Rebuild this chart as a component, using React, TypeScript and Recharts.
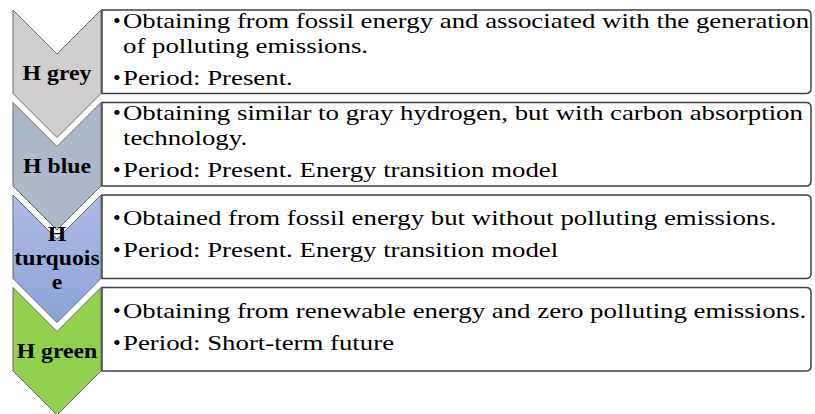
import React from 'react';
import { BarChart, Bar, XAxis, YAxis } from 'recharts';

const categories = ['H grey', 'H blue', 'H turquoise', 'H green'];
const labelLines = [['H grey'], ['H blue'], ['H', 'turquois', 'e'], ['H green']];
const values = [1, 1, 1, 1];
const chevronColors = ['#D0CECE', '#ADB9CA', '#8FAADC', '#92D050'];
const bulletItems: string[][][] = [
  [
    ['Obtaining from fossil energy and associated with the generation', 'of polluting emissions.'],
    ['Period: Present.'],
  ],
  [
    ['Obtaining similar to gray hydrogen, but with carbon absorption', 'technology.'],
    ['Period: Present. Energy transition model'],
  ],
  [
    ['Obtained from fossil energy but without polluting emissions.'],
    ['Period: Present. Energy transition model'],
  ],
  [
    ['Obtaining from renewable energy and zero polluting emissions.'],
    ['Period: Short-term future'],
  ],
];

const data = categories.map((name, i) => ({
  name,
  value: values[i],
  color: chevronColors[i],
  label: labelLines[i],
  items: bulletItems[i],
  idx: i,
}));

const SERIF = '"Liberation Serif", "Times New Roman", serif';
const SX = 1.22;
const LSX = 1.08;

const RowShape = (props: any) => {
  const { x, y, width, height, payload } = props;
  const boxH = height - 9.5;
  const chevW = 88;
  const depth = 44;
  const cx = x + chevW / 2;
  const x1 = x + chevW;
  const pts = [
    [x, y],
    [cx, y + depth],
    [x1, y],
    [x1, y + boxH],
    [cx, y + boxH + depth],
    [x, y + boxH],
  ]
    .map((p) => p.join(','))
    .join(' ');
  const L = x + 89;
  const R = x + width - 1;
  const T = y;
  const B = y + boxH;
  const r = 5;
  const boxPath = `M${L},${T} H${R - r} Q${R},${T} ${R},${T + r} V${B - r} Q${R},${B} ${R - r},${B} H${L} Z`;
  const gradId = `grad-${payload.idx}`;
  const fill = payload.idx === 2 ? `url(#${gradId})` : payload.color;

  const lbl: string[] = payload.label;
  const lblGap = 24;
  const lblStart = y + 70 - ((lbl.length - 1) * lblGap) / 2;

  const items: string[][] = payload.items;
  const lineH = 25;
  const itemGap = 7;
  let nLines = 0;
  items.forEach((it) => (nLines += it.length));
  const span = (nLines - 1) * lineH + (items.length - 1) * itemGap;
  let by = y + 46 - span / 2;
  const textEls: any[] = [];
  items.forEach((it, ii) => {
    it.forEach((line, li) => {
      if (li === 0) {
        textEls.push(
          <text key={`b${ii}`} x={113} y={by} fontFamily={SERIF} fontSize={22} fill="#000">
            •
          </text>
        );
      }
      textEls.push(
        <text
          key={`t${ii}-${li}`}
          transform={`translate(123,${by}) scale(${SX},1)`}
          fontFamily={SERIF}
          fontSize={22}
          fill="#000"
        >
          {line}
        </text>
      );
      by += lineH;
    });
    by += itemGap;
  });

  return (
    <g>
      {payload.idx === 2 && (
        <defs>
          <linearGradient id={gradId} x1="0" y1="0" x2="0" y2="1">
            <stop offset="0%" stopColor="#AEBCE6" />
            <stop offset="100%" stopColor="#8AA3D8" />
          </linearGradient>
        </defs>
      )}
      <polygon points={pts} fill={fill} stroke="#6b6b6b" strokeWidth={1} />
      <path d={boxPath} fill="#fff" stroke="#404040" strokeWidth={1.5} />
      {lbl.map((t, i) => (
        <text
          key={i}
          transform={`translate(${cx},${lblStart + i * lblGap}) scale(${LSX},1)`}
          textAnchor="middle"
          fontFamily={SERIF}
          fontWeight="bold"
          fontSize={22}
          fill="#000"
        >
          {t}
        </text>
      ))}
      {textEls}
    </g>
  );
};

export default function App() {
  return (
    <div style={{ position: 'absolute', left: 0, top: 0, background: '#fff' }}>
      <BarChart
        width={815}
        height={414}
        data={data}
        layout="vertical"
        margin={{ top: 10, right: 3, bottom: 34, left: 13 }}
        barCategoryGap={0}
      >
        <XAxis type="number" domain={[0, 1]} hide />
        <YAxis type="category" dataKey="name" hide />
        <Bar dataKey="value" shape={<RowShape />} isAnimationActive={false} />
      </BarChart>
    </div>
  );
}
